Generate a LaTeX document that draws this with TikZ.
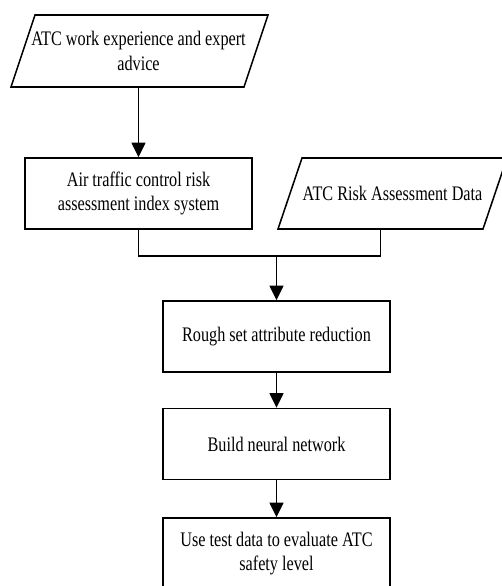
\documentclass[tikz,border=0pt]{standalone}
\usepackage{fontspec}
\setmainfont{Liberation Serif}[FakeStretch=0.785]
\usetikzlibrary{arrows.meta}
\begin{document}
\begin{tikzpicture}[x=0.75pt,y=-0.75pt, line width=1.15pt,
  lbl/.style={align=center, inner sep=0pt, font=\fontsize{15.5pt}{18.5pt}\selectfont},
  box/.style={lbl, draw, minimum width=170.25pt, minimum height=53.25pt},
  arr/.style={-{Triangle[length=11pt,width=10.5pt]}}]
\clip (0,0) rectangle (502,586);
% input parallelogram 1
\node[lbl] (p1) at (138.5,51) {ATC work experience and expert\\advice};
\draw (35,15) -- (268,15) -- (244,87) -- (11,87) -- cycle;
\coordinate (p1s) at (138.5,87);
% index system box
\node[box] (b2) at (138.5,193.5) {Air traffic control risk\\assessment index system};
% input parallelogram 2
\node[lbl] (p2) at (392.5,193.5) {ATC Risk Assessment Data};
\draw (302,158) -- (507,158) -- (483,229) -- (278,229) -- cycle;
\coordinate (p2s) at (380.5,229);
% process boxes
\node[box] (b3) at (276.5,336.5) {Rough set attribute reduction};
\node[box] (b4) at (276.5,444) {Build neural network};
\node[box] (b5) at (276.5,553.5) {Use test data to evaluate ATC\\safety level};
% connectors
\coordinate (j) at (276.5,256);
\draw[arr] (p1s) -- (b2.north);
\draw (b2.south) |- (j) -| (p2s);
\draw[arr] (j) -- (b3.north);
\draw[arr] (b3.south) -- (b4.north);
\draw[arr] (b4.south) -- (b5.north);
\end{tikzpicture}
\end{document}
